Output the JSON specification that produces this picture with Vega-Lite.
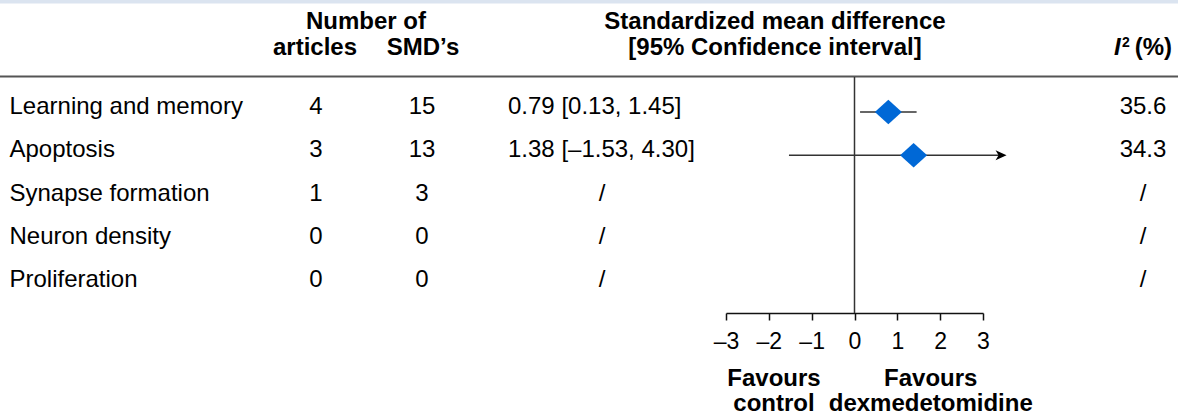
{
  "$schema": "https://vega.github.io/schema/vega-lite/v6.json",
  "width": 1178,
  "height": 418,
  "autosize": {"type": "none"},
  "padding": 0,
  "background": "white",
  "config": {
    "view": {"stroke": null},
    "font": "Liberation Sans",
    "text": {"font": "Liberation Sans", "fontSize": 24, "color": "black"}
  },
  "data": {
    "values": [
      {"label": "Learning and memory", "articles": 4, "smds": 15, "smd": 0.79, "lo": 0.13, "hi": 1.45, "i2": 35.6},
      {"label": "Apoptosis", "articles": 3, "smds": 13, "smd": 1.38, "lo": -1.53, "hi": 4.30, "i2": 34.3},
      {"label": "Synapse formation", "articles": 1, "smds": 3, "smd": null, "lo": null, "hi": null, "i2": null},
      {"label": "Neuron density", "articles": 0, "smds": 0, "smd": null, "lo": null, "hi": null, "i2": null},
      {"label": "Proliferation", "articles": 0, "smds": 0, "smd": null, "lo": null, "hi": null, "i2": null}
    ]
  },
  "transform": [
    {"calculate": "isValid(datum.smd) ? format(datum.smd, '.2f') + ' [' + replace(replace(format(datum.lo, '.2f'), '\u2212', '\u2013'), '-', '\u2013') + ', ' + format(datum.hi, '.2f') + ']' : '/'", "as": "ci_text"},
    {"calculate": "isValid(datum.i2) ? format(datum.i2, '.1f') : '/'", "as": "i2_text"}
  ],
  "encoding": {
    "y": {
      "field": "label",
      "type": "nominal",
      "sort": null,
      "axis": null,
      "scale": {
        "type": "point",
        "domain": ["Learning and memory", "Apoptosis", "Synapse formation", "Neuron density", "Proliferation"],
        "range": [107, 280],
        "padding": 0
      }
    }
  },
  "layer": [
    {
      "data": {"values": [{}]},
      "mark": {"type": "rect", "color": "#dbe4f0"},
      "encoding": {"y": {"value": 0}, "y2": {"value": 3.5}}
    },
    {
      "data": {"values": [{}]},
      "mark": {"type": "rule", "color": "#555555", "strokeWidth": 2},
      "encoding": {"y": {"value": 76.5}}
    },
    {
      "data": {"values": [{}]},
      "mark": {"type": "rule", "color": "#333333", "strokeWidth": 1.5},
      "encoding": {
        "x": {"datum": 0, "type": "quantitative"},
        "y": {"value": 77},
        "y2": {"value": 313}
      }
    },
    {
      "mark": {"type": "text", "align": "left", "baseline": "middle"},
      "encoding": {"x": {"value": 9.5}, "text": {"field": "label"}}
    },
    {
      "mark": {"type": "text", "align": "center", "baseline": "middle"},
      "encoding": {"x": {"value": 316}, "text": {"field": "articles"}}
    },
    {
      "mark": {"type": "text", "align": "center", "baseline": "middle"},
      "encoding": {"x": {"value": 422}, "text": {"field": "smds"}}
    },
    {
      "transform": [{"filter": "isValid(datum.smd)"}],
      "mark": {"type": "text", "align": "left", "baseline": "middle"},
      "encoding": {"x": {"value": 508}, "text": {"field": "ci_text"}}
    },
    {
      "transform": [{"filter": "!isValid(datum.smd)"}],
      "mark": {"type": "text", "align": "center", "baseline": "middle"},
      "encoding": {"x": {"value": 602}, "text": {"field": "ci_text"}}
    },
    {
      "mark": {"type": "text", "align": "center", "baseline": "middle"},
      "encoding": {"x": {"value": 1143}, "text": {"field": "i2_text"}}
    },
    {
      "transform": [{"filter": "isValid(datum.smd) && datum.hi <= 3"}],
      "mark": {"type": "rule", "color": "#333333", "strokeWidth": 1.5, "yOffset": 5},
      "encoding": {
        "x": {
          "field": "lo",
          "type": "quantitative",
          "scale": {"domain": [-3, 3], "range": [726, 983], "nice": false, "zero": false},
          "axis": {
            "orient": "bottom",
            "offset": -105,
            "values": [-3, -2, -1, 0, 1, 2, 3],
            "labelExpr": "datum.value < 0 ? '\u2013' + abs(datum.value) : '' + datum.value",
            "title": null,
            "grid": false,
            "domainColor": "#111111",
            "domainWidth": 1.5,
            "tickColor": "#111111",
            "tickWidth": 1.5,
            "tickSize": 7,
            "labelFont": "Liberation Sans",
            "labelFontSize": 23,
            "labelColor": "black",
            "labelPadding": 10,
            "labelFlush": false,
            "labelOverlap": false
          }
        },
        "x2": {"field": "hi"}
      }
    },
    {
      "transform": [{"filter": "isValid(datum.smd) && datum.hi > 3"}],
      "mark": {"type": "rule", "color": "#333333", "strokeWidth": 1.5, "yOffset": 5},
      "encoding": {
        "x": {"field": "lo", "type": "quantitative"},
        "x2": {"datum": 3.45}
      }
    },
    {
      "transform": [{"filter": "isValid(datum.smd) && datum.hi > 3"}],
      "mark": {
        "type": "point",
        "shape": "M1,0L-1,-0.9L-0.45,0L-1,0.9Z",
        "size": 121,
        "filled": true,
        "color": "black",
        "opacity": 1,
        "strokeWidth": 0,
        "xOffset": -5.5,
        "yOffset": 5
      },
      "encoding": {"x": {"datum": 3.55, "type": "quantitative"}}
    },
    {
      "transform": [{"filter": "isValid(datum.smd)"}],
      "mark": {
        "type": "point",
        "shape": "M0,-0.9L1,0L0,0.9L-1,0Z",
        "size": 729,
        "filled": true,
        "color": "#0068d6",
        "opacity": 1,
        "strokeWidth": 0,
        "yOffset": 5
      },
      "encoding": {"x": {"field": "smd", "type": "quantitative"}}
    },
    {
      "data": {"values": [{}]},
      "mark": {"type": "text", "text": "Number of", "fontWeight": "bold", "align": "center", "baseline": "alphabetic"},
      "encoding": {"x": {"value": 366}, "y": {"value": 28.5}}
    },
    {
      "data": {"values": [{}]},
      "mark": {"type": "text", "text": "articles", "fontWeight": "bold", "align": "center", "baseline": "alphabetic"},
      "encoding": {"x": {"value": 315}, "y": {"value": 55}}
    },
    {
      "data": {"values": [{}]},
      "mark": {"type": "text", "text": "SMD\u2019s", "fontWeight": "bold", "align": "center", "baseline": "alphabetic"},
      "encoding": {"x": {"value": 423}, "y": {"value": 55}}
    },
    {
      "data": {"values": [{}]},
      "mark": {"type": "text", "text": "Standardized mean difference", "fontWeight": "bold", "align": "center", "baseline": "alphabetic"},
      "encoding": {"x": {"value": 775}, "y": {"value": 28.5}}
    },
    {
      "data": {"values": [{}]},
      "mark": {"type": "text", "text": "[95% Confidence interval]", "fontWeight": "bold", "align": "center", "baseline": "alphabetic"},
      "encoding": {"x": {"value": 775}, "y": {"value": 55}}
    },
    {
      "data": {"values": [{}]},
      "mark": {"type": "text", "text": "I", "fontWeight": "bold", "fontStyle": "italic", "align": "left", "baseline": "alphabetic"},
      "encoding": {"x": {"value": 1114}, "y": {"value": 55}}
    },
    {
      "data": {"values": [{}]},
      "mark": {"type": "text", "text": "2", "fontWeight": "bold", "fontSize": 14, "align": "left", "baseline": "alphabetic"},
      "encoding": {"x": {"value": 1122}, "y": {"value": 47}}
    },
    {
      "data": {"values": [{}]},
      "mark": {"type": "text", "text": "(%)", "fontWeight": "bold", "align": "right", "baseline": "alphabetic"},
      "encoding": {"x": {"value": 1172}, "y": {"value": 55}}
    },
    {
      "data": {"values": [{}]},
      "mark": {"type": "text", "text": ["Favours", "control"], "fontWeight": "bold", "align": "center", "baseline": "alphabetic", "lineHeight": 25},
      "encoding": {"x": {"datum": -1.88, "type": "quantitative"}, "y": {"value": 386}}
    },
    {
      "data": {"values": [{}]},
      "mark": {"type": "text", "text": ["Favours", "dexmedetomidine"], "fontWeight": "bold", "align": "center", "baseline": "alphabetic", "lineHeight": 25},
      "encoding": {"x": {"datum": 1.78, "type": "quantitative"}, "y": {"value": 386}}
    }
  ]
}
